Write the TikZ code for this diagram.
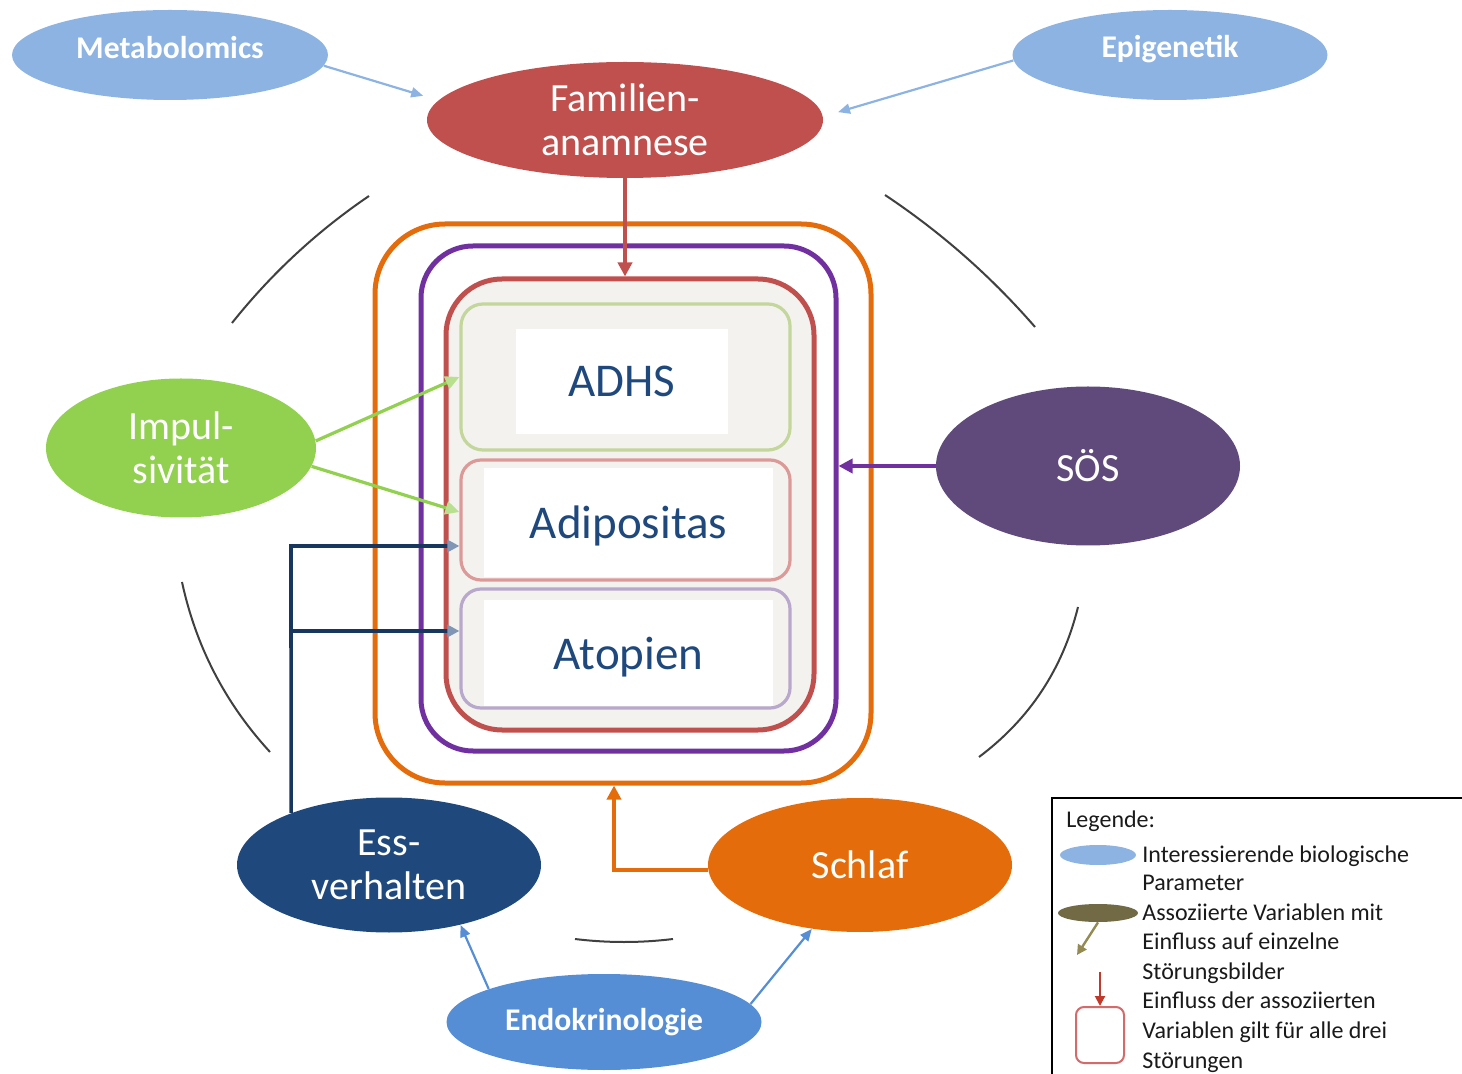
\documentclass[tikz,border=0pt]{standalone}
\usepackage{fontspec}
\setmainfont{Carlito}
\usetikzlibrary{shapes.geometric,arrows.meta,calc}
\definecolor{lblue}{HTML}{8DB3E2}
\definecolor{mblue}{HTML}{558ED5}
\definecolor{famred}{HTML}{C0504D}
\definecolor{impgreen}{HTML}{92D050}
\definecolor{soescol}{HTML}{604A7B}
\definecolor{essblue}{HTML}{1F497D}
\definecolor{orng}{HTML}{E46C0A}
\definecolor{purp}{HTML}{7030A0}
\definecolor{beige}{HTML}{F3F2EE}
\definecolor{gbord}{HTML}{C3D69B}
\definecolor{pbord}{HTML}{DB9A98}
\definecolor{lbord}{HTML}{B8A8CC}
\definecolor{navy}{HTML}{17375E}
\definecolor{navyhead}{HTML}{8096B4}
\definecolor{greenhead}{HTML}{B8E08E}
\definecolor{arcgray}{HTML}{404040}
\definecolor{olive}{HTML}{716A45}
\definecolor{olivearr}{HTML}{948A54}
\definecolor{legred}{HTML}{C0392B}
\definecolor{legredbox}{HTML}{D46A6A}
\definecolor{legtext}{HTML}{1A1A1A}
\newcommand\legfont{\fontsize{12}{14.7}\selectfont}
\begin{document}
\begin{tikzpicture}[x=0.5pt,y=-0.5pt,
  ell/.style={ellipse, inner sep=0pt, text=white, align=center},
  bigtext/.style={font=\fontsize{20}{22}\selectfont},
  boldtext/.style={font=\fontsize{15.8}{18}\selectfont\bfseries, text=white},
  rbox/.style={rectangle, rounded corners=#1, inner sep=0pt},
  wbox/.style={rectangle, fill=white, inner sep=0pt, text depth=0pt, text=essblue, font=\fontsize{23.5}{26}\selectfont},
  arcline/.style={draw=arcgray, line width=1pt},
  barrow/.style={draw=mblue, line width=1.1pt, -{Triangle[length=6pt,width=5pt]}},
  larrow/.style={draw=lblue, line width=1.1pt, -{Triangle[length=6pt,width=5pt]}},
  garrow/.style={draw=impgreen, line width=1.6pt, -{Triangle[length=7pt,width=6.5pt,color=greenhead]}},
  navyline/.style={draw=navy, line width=1.8pt, -{Triangle[length=6pt,width=6pt,color=navyhead]}},
  famarrow/.style={draw=famred, line width=2pt, -{Triangle[length=7pt,width=7pt]}},
  parrow/.style={draw=purp, line width=2pt, -{Triangle[length=7pt,width=7pt]}},
  oarrow/.style={draw=orng, line width=2pt, -{Triangle[length=7pt,width=7pt]}},
  legtxt/.style={anchor=base west, inner sep=0pt, font=\legfont, text=legtext}
]
\useasboundingbox (0,0) rectangle (1462,1074);
\clip (0,0) rectangle (1462,1074);

% outer arcs
\draw[arcline] (232,323) .. controls (271.3,273.7) and (317,231.3) .. (369,196);
\draw[arcline] (885,195) .. controls (941,232.3) and (991,276.3) .. (1035,327);
\draw[arcline] (182,582) .. controls (196,646.7) and (225.3,703.3) .. (270,752);
\draw[arcline] (1078,607) .. controls (1062.7,669) and (1029.7,719) .. (979,757);
\draw[arcline] (575,939) .. controls (607.7,943) and (640.3,943) .. (673,939);

% nested boxes
\node[rbox=35pt, draw=orng, line width=2.5pt, minimum width=248pt, minimum height=279.5pt] (orange) at (623,503.5) {};
\node[rbox=26pt, draw=purp, line width=2.5pt, minimum width=207.5pt, minimum height=252.5pt] (purple) at (628.5,498.5) {};
\node[rbox=28pt, draw=famred, fill=beige, line width=2.5pt, minimum width=184pt, minimum height=225.5pt] (red) at (630,504.5) {};
\node[rbox=11pt, draw=gbord, fill=beige, line width=1.6pt, minimum width=164.5pt, minimum height=73pt] (green) at (625.5,377) {};
\node[rbox=10pt, draw=pbord, fill=beige, line width=1.6pt, minimum width=164.5pt, minimum height=60pt] (pink) at (625.5,520) {};
\node[rbox=10pt, draw=lbord, fill=beige, line width=1.6pt, minimum width=164.5pt, minimum height=59.5pt] (lav) at (625.5,648.5) {};
\node[wbox, minimum width=106pt, minimum height=52.5pt] (adhs) at (622,381.5) {ADHS};
\node[wbox, minimum width=144.5pt, minimum height=54.5pt] (adip) at (628.5,522.5) {Adipositas};
\node[wbox, minimum width=144.5pt, minimum height=53pt] (atop) at (628.5,653) {Atopien};

% ellipses
\node[ell, fill=lblue, minimum width=158pt, minimum height=45pt] (meta) at (170,55) {};
\node[boldtext] (metaT) at (170,48) {Metabolomics};
\node[ell, fill=lblue, minimum width=157.5pt, minimum height=45pt] (epi) at (1170,55) {};
\node[boldtext] (epiT) at (1170,49) {Epigenetik};
\node[ell, bigtext, fill=famred, minimum width=198pt, minimum height=58pt] (fam) at (625,120) {Familien-\\anamnese};
\node[ell, bigtext, fill=impgreen, minimum width=135pt, minimum height=69.5pt] (imp) at (181,448) {Impul-\\sivität};
\node[ell, bigtext, fill=soescol, minimum width=152pt, minimum height=79.5pt] (soes) at (1088,466) {SÖS};
\node[ell, bigtext, fill=essblue, minimum width=152pt, minimum height=67.5pt] (ess) at (389,865) {Ess-\\verhalten};
\node[ell, bigtext, fill=orng, minimum width=152pt, minimum height=67pt] (schlaf) at (860,865) {Schlaf};
\node[ell, fill=mblue, minimum width=157.5pt, minimum height=48pt, font=\fontsize{15.8}{18}\selectfont\bfseries] (endo) at (604,1022) {Endokrinologie};

% connectors
\draw[larrow, shorten >=7.8pt] (meta.-4) -- (fam.174);
\draw[larrow, shorten >=7.8pt] (epi.182.6) -- (fam.1);
\draw[famarrow] (fam.south) -- (fam.south |- red.north);
\draw[garrow] (imp.3) -- (green.west);
\draw[garrow] (imp.-8) -- ($(pink.west)+(0,-8)$);
\draw[parrow] (soes.west) -- (soes.west -| purple.east);
\coordinate (ej1) at (291,546);
\coordinate (ej2) at (291,631);
\draw[navyline] (ess.152) -- (ej1) -- (pink.west |- ej1);
\draw[navyline] (ej2) -- (lav.west |- ej2);
\draw[oarrow] (schlaf.182) -| ($(orange.south)+(-9,0)$);
\draw[barrow] (endo.164) -- (ess.-40);
\draw[barrow] (endo.7) -- (schlaf.-127);

% legend
\node[draw=black, line width=1pt, anchor=north west, minimum width=230pt, minimum height=160pt, inner sep=0pt] (legend) at (1051,797) {};
\node[legtxt] (legT) at (1066,827) {Legende:};
\node[ellipse, fill=lblue, minimum width=38pt, minimum height=10pt, inner sep=0pt] (leg1) at (1098,855) {};
\node[ellipse, fill=olive, minimum width=40pt, minimum height=9pt, inner sep=0pt] (leg2) at (1098,913) {};
\coordinate (leg2e) at (1077,955);
\draw[draw=olivearr, line width=1.2pt, -{Triangle[length=5pt,width=5pt]}] (leg2.south) -- (leg2e);
\coordinate (leg3s) at (1100,972);
\node[draw=legredbox, line width=1pt, rounded corners=4pt, minimum width=24pt, minimum height=28pt, inner sep=0pt] (leg3) at (1100,1035) {};
\draw[draw=legred, line width=1pt, -{Triangle[length=5pt,width=5pt]}] (leg3s) -- (leg3.north);
\node[legtxt] (l1) at (1142,862) {Interessierende biologische};
\node[legtxt] (l2) at (1142,890) {Parameter};
\node[legtxt] (l3) at (1142,920) {Assoziierte Variablen mit};
\node[legtxt] (l4) at (1142,949) {Einfluss auf einzelne};
\node[legtxt] (l5) at (1142,979) {Störungsbilder};
\node[legtxt] (l6) at (1142,1008) {Einfluss der assoziierten};
\node[legtxt] (l7) at (1142,1038) {Variablen gilt für alle drei};
\node[legtxt] (l8) at (1142,1068) {Störungen};
\end{tikzpicture}
\end{document}
